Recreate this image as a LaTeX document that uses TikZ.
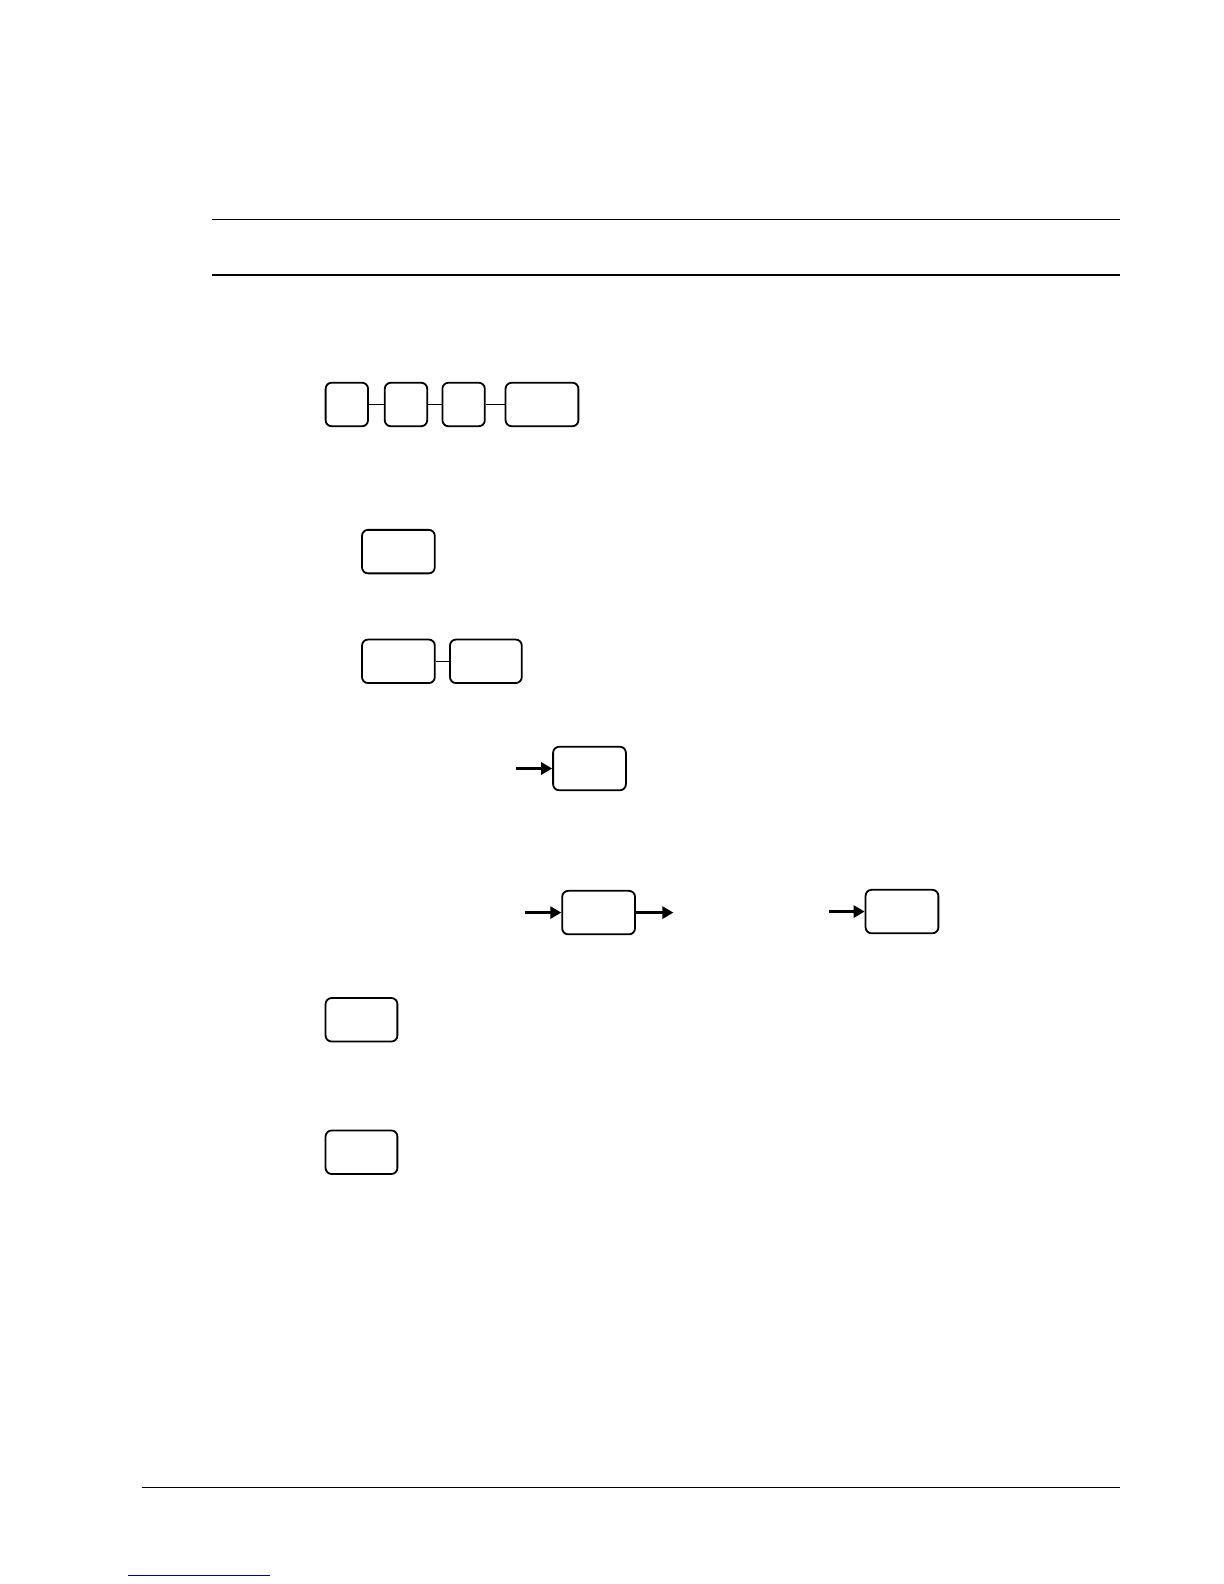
\documentclass[tikz,border=0pt]{standalone}
\usepackage{tikz}
\usetikzlibrary{arrows.meta}
\tikzset{
keybox/.style={rectangle, draw, rounded corners=3bp, line width=0.9bp, inner sep=0pt, minimum height=21.75bp},
narrow/.style={keybox, minimum width=21.2bp},
wide/.style={keybox, minimum width=36.4bp},
rule/.style={line width=0.9bp},
feed/.style={line width=1.9bp, -{Triangle[length=5.5bp,width=6bp]}}
}
\begin{document}
\begin{tikzpicture}[x=0.5056bp,y=-0.5056bp]
\useasboundingbox (0,0) rectangle (1210.4,1566.5);

\draw[rule] (210,217) -- (1108,217);
\draw[rule] (210,272) -- (1108,272);
\draw[rule] (140,1471) -- (1108,1471);
\draw[line width=0.7bp, blue!60!black] (127,1558) -- (267,1558);

\node[narrow] (0) at (343,400) {};
\node[narrow] (1) at (401.5,400) {};
\node[narrow] (2) at (458.5,400) {};
\node[wide] (3) at (536,400) {};
\draw (0) -- (1);
\draw (1) -- (2);
\draw (2) -- (3);

\node[wide] (4) at (394,545.5) {};

\node[wide] (5) at (394,654) {};
\node[wide, minimum width=35.9bp] (6) at (480.5,654) {};
\draw (5) -- (6);

\coordinate (a0) at (510,760);
\node[wide] (7) at (583,760) {};
\draw[feed] (a0) -- (7);

\coordinate (b0) at (519,902.5);
\node[wide] (8) at (592,902.5) {};
\coordinate (b1) at (666,902.5);
\draw[feed] (b0) -- (8);
\draw[feed] (8) -- (b1);
\coordinate (c0) at (820,901.5);
\node[wide] (9) at (892,901.5) {};
\draw[feed] (c0) -- (9);

\node[wide, minimum width=35.9bp] (10) at (357.5,1008.5) {};
\node[wide, minimum width=35.9bp] (11) at (357.5,1139.5) {};

\end{tikzpicture}
\end{document}
